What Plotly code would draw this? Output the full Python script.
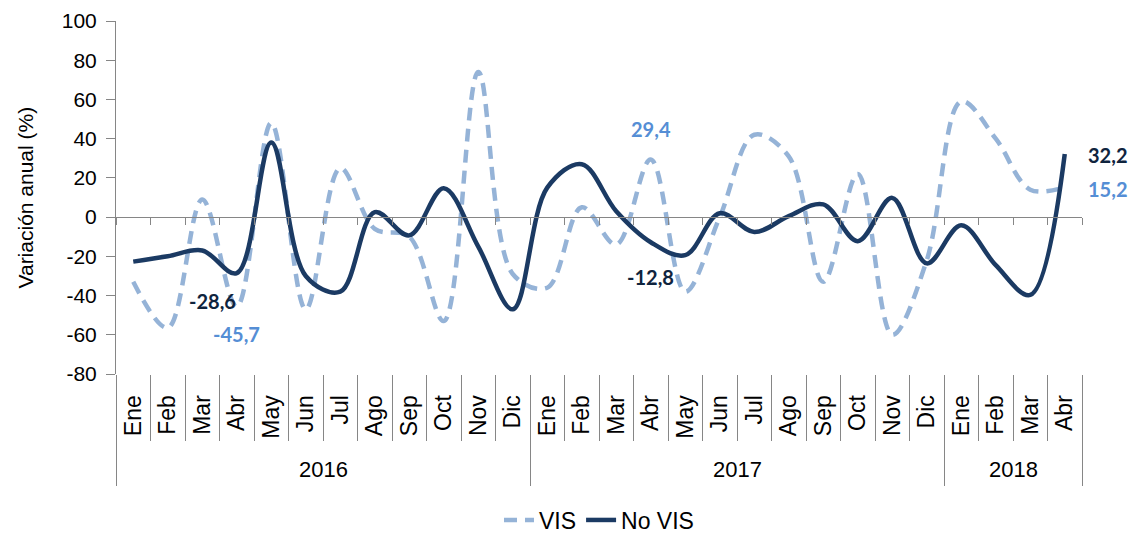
import plotly.graph_objects as go

years = ["2016"] * 12 + ["2017"] * 12 + ["2018"] * 4
months = ["Ene", "Feb", "Mar", "Abr", "May", "Jun", "Jul", "Ago", "Sep", "Oct", "Nov", "Dic",
          "Ene", "Feb", "Mar", "Abr", "May", "Jun", "Jul", "Ago", "Sep", "Oct", "Nov", "Dic",
          "Ene", "Feb", "Mar", "Abr"]

vis = [-33, -56.5, 9, -45.7, 48, -47, 25, -6, -10, -53, 74, -29,
       -36, 5, -14, 29.4, -38, 0, 42, 31, -33, 22, -60, -22,
       59, 40, 14, 15.2]
no_vis = [-22.7, -20, -17, -28.6, 38, -30, -38, 2.5, -9.3, 14.7, -15, -47,
          15, 27, 3, -12.8, -19.4, 2, -7.6, 0.5, 6.5, -12.3, 9.8, -23.6,
          -4.2, -24.5, -39.7, 32.2]

y_ticks = [-80, -60, -40, -20, 0, 20, 40, 60, 80, 100]
y_ticktext = [str(v) for v in y_ticks]

labels = [
    # (category index, value position, pixel shift, text, color)
    (2, -43, 10, "-28,6", "#0F243E"),
    (3, -59.5, 0, "-45,7", "#558ED5"),
    (15, 45, 0, "29,4", "#558ED5"),
    (15, -30.5, 0, "-12,8", "#0F243E"),
    (27, 31.7, 43, "32,2", "#0F243E"),
    (27, 14.4, 43, "15,2", "#558ED5"),
]

y_min, y_max = -80, 100
n = len(months)
idx = list(range(n))

# year groups
groups = []
for i, yv in enumerate(years):
    if not groups or groups[-1][0] != yv:
        groups.append([yv, i, i])
    else:
        groups[-1][2] = i

AX = "#868686"
FONT = "Liberation Sans, Arial"
W, H = 1135, 533
L, R, T, B = 116, 53, 21, 159
plot_w = W - L - R
plot_h = H - T - B

fig = go.Figure()
fig.add_trace(go.Scatter(
    x=idx, y=vis, name="VIS", mode="lines",
    line=dict(color="#95B3D7", width=4.5, dash="13px,8px", shape="spline", smoothing=1),
))
fig.add_trace(go.Scatter(
    x=idx, y=no_vis, name="No VIS", mode="lines",
    line=dict(color="#1B3A63", width=4.5, shape="spline", smoothing=1),
))
# invisible helper traces so the overlay axes (ticks / separators) get drawn
for ax in ["x2", "x3", "x4"]:
    fig.add_trace(go.Scatter(x=idx, y=vis, xaxis=ax, mode="lines", opacity=0,
                             line=dict(width=0), showlegend=False, hoverinfo="skip"))

for xi, yv, dx, txt, col in labels:
    fig.add_annotation(x=xi, y=yv, xref="x", yref="y", xshift=dx, text=txt, showarrow=False,
                       font=dict(family="Lato, Liberation Sans", size=20, color=col, weight="bold"))

for name, a, b in groups:
    fig.add_annotation(x=(a + b) / 2, y=-(470 - 374) / plot_h, xref="x", yref="paper",
                       text=name, showarrow=False, yanchor="middle",
                       font=dict(family=FONT, size=22, color="black"))

# y-axis title
fig.add_annotation(x=-(L - 25) / plot_w, y=0.5, xref="paper", yref="paper",
                   text="Variación anual (%)", textangle=-90, showarrow=False,
                   xanchor="center", yanchor="middle",
                   font=dict(family=FONT, size=21, color="black"))

xr = [-0.5, n - 0.5]
boundaries = [i - 0.5 for i in range(n + 1)]
group_bounds = [groups[0][1] - 0.5] + [g[2] + 0.5 for g in groups]

common = dict(showgrid=False, zeroline=False, automargin=False, range=xr)

fig.update_layout(
    width=W, height=H,
    margin=dict(l=L, r=R, t=T, b=B, autoexpand=False),
    paper_bgcolor="white", plot_bgcolor="white",
    font=dict(family=FONT, size=20, color="black"),
    showlegend=True,
    legend=dict(orientation="h", x=0.5, xanchor="center", y=-(520 - 374) / plot_h, yanchor="middle",
                font=dict(size=23)),
    xaxis=dict(
        tickvals=idx, ticktext=months, tickangle=-90,
        ticks="outside", ticklen=11, tickcolor="rgba(0,0,0,0)",
        showline=False, tickfont=dict(size=23), **common,
    ),
    xaxis2=dict(
        overlaying="x", anchor="free", position=(0 - y_min) / (y_max - y_min),
        showline=True, linecolor=AX, linewidth=1,
        ticks="outside", ticklen=7, tickcolor=AX,
        tickvals=boundaries, showticklabels=False, **common,
    ),
    xaxis3=dict(
        overlaying="x", anchor="y", showline=False,
        ticks="outside", ticklen=66, tickcolor=AX, tickwidth=1,
        tickvals=boundaries, showticklabels=False, **common,
    ),
    xaxis4=dict(
        overlaying="x", anchor="y", showline=False,
        ticks="outside", ticklen=111, tickcolor=AX, tickwidth=1,
        tickvals=group_bounds, showticklabels=False, **common,
    ),
    yaxis=dict(
        range=[y_min, y_max], tickvals=y_ticks, ticktext=y_ticktext,
        showline=True, linecolor=AX,
        ticks="outside", ticklen=9, tickcolor=AX, showgrid=False,
        zeroline=False, tickfont=dict(size=21), automargin=False,
        ticklabelstandoff=5,
    ),
)

fig.write_html("out.html", config={"displayModeBar": False},
               post_script="document.body.style.margin='0';document.body.style.padding='0';")
